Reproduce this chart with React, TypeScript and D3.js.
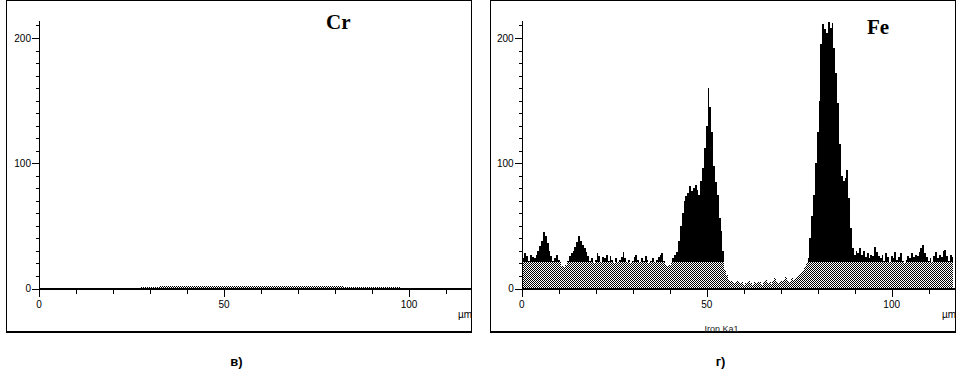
import React from "react";
import * as d3 from "d3";

// Fe line profile, sampled every 0.5 µm from 0 µm
const FE_STEP = 0.5;
const FE_VALUES = [
  20, 24, 28, 26, 22, 27, 25, 24,
  27, 30, 34, 38, 45, 42, 36, 30, 26,
  22, 24, 27, 23, 21, 18, 17, 19, 22, 26,
  28, 30, 33, 37, 42, 38, 35, 32, 29, 26,
  22, 24, 20, 23, 28, 26, 21, 25, 24, 27, 22, 26, 23, 20, 24, 21, 23, 25, 29, 24,
  21, 23, 20, 22, 25, 27, 23, 21, 24, 22, 26, 23, 20, 22, 24, 21, 23, 25, 27, 28,
  22, 19, 18, 19, 21, 24,
  27, 29, 38, 50, 60, 70, 74, 76, 82, 78, 80, 83, 79, 75, 86, 96, 112, 130, 160, 145,
  125, 98, 85, 75, 56, 46, 30, 15, 11, 7, 6, 5,
  4, 5, 6, 4, 5, 3, 5, 4, 6, 4, 3, 5, 4, 6, 5, 3, 5, 7, 4, 5,
  3, 6, 8, 5, 4, 6, 5, 7, 9, 6, 5, 8, 7, 8, 9, 11,
  12, 14, 17, 20, 24, 40, 58, 75, 100, 125, 150, 195, 211, 207, 204, 213, 208, 212, 192, 172,
  148, 115, 90, 86, 88, 95, 72, 48, 32, 27,
  30, 28, 32, 27, 30, 25, 28, 24, 27, 26, 33, 29, 26, 24, 27, 22, 28, 25, 21, 26,
  24, 29, 23, 25, 28, 22, 20, 23, 26, 24, 28, 25, 27, 26, 29, 32, 35, 28, 25, 22,
  24, 21, 26, 29, 24, 27, 25, 30, 31, 26, 22, 27, 25,
];

// Cr line profile, sampled every 5 µm (essentially zero)
const CR_STEP = 5;
const CR_VALUES = [0, 0, 0, 0, 0, 0.4, 1.2, 1.6, 1.6, 1.8, 1.6, 1.6, 1.8, 1.6, 1.6, 1.7, 1.6, 1.2, 0.8, 0.9, 0, 0, 0, 0];

const X_LABELS = [0, 50, 100];
const Y_LABELS = [0, 100, 200];
const DITHER_LEVEL = 21.5;

const y = d3.scaleLinear().domain([0, 200]).range([288.5, 38]);

type PanelProps = {
  id: string;
  frameX: number;
  axisX: number;
  xMax: number;
  values: number[];
  step: number;
  element: string;
  elX: number;
  elY: number;
  caption: string;
  signal?: string;
};

const Panel = ({ id, frameX, axisX, xMax, values, step, element, elX, elY, caption, signal }: PanelProps) => {
  const frameW = 465;
  const x = d3.scaleLinear().domain([0, xMax]).range([axisX, axisX + xMax * 3.7]);
  const area = d3
    .area<number>()
    .x((_, i) => x(i * step))
    .y0(y(0))
    .y1((d) => y(d))
    .curve(d3.curveStep);
  const path = area(values) || "";
  const cut = Math.round(y(DITHER_LEVEL));
  const right = frameX + frameW;
  const minorX = x.ticks(12);
  const minorY = d3.scaleLinear().domain([0, 215]).ticks(22);
  const font = "Liberation Sans, Arial";

  return (
    <g>
      <defs>
        <clipPath id={`${id}-top`}>
          <rect x={axisX} y={0} width={right - axisX} height={cut} />
        </clipPath>
        <clipPath id={`${id}-bot`}>
          <rect x={axisX} y={cut} width={right - axisX} height={289 - cut} />
        </clipPath>
      </defs>
      <rect x={frameX + 0.5} y={0.5} width={frameW} height={331} fill="white" stroke="#000" strokeWidth={1} />
      <line x1={frameX} x2={right + 1} y1={332} y2={332} stroke="#000" strokeWidth={2} />

      <path d={path} fill="#000" clipPath={`url(#${id}-top)`} shapeRendering="crispEdges" />
      <path d={path} fill="url(#dither)" clipPath={`url(#${id}-bot)`} shapeRendering="crispEdges" />

      {/* y axis */}
      <line x1={Math.round(axisX) + 0.5} x2={Math.round(axisX) + 0.5} y1={21} y2={y(0) + 1} stroke="#000" shapeRendering="crispEdges" />
      {minorY.map((t) => (
        <line key={`ym${t}`} x1={axisX - 3} x2={axisX} y1={Math.round(y(t)) + 0.5} y2={Math.round(y(t)) + 0.5}
          stroke="#000" shapeRendering="crispEdges" />
      ))}
      {Y_LABELS.map((t) => (
        <g key={`yl${t}`}>
          <line x1={axisX - 7} x2={axisX} y1={Math.round(y(t)) + 0.5} y2={Math.round(y(t)) + 0.5} stroke="#000"
            shapeRendering="crispEdges" />
          <text x={axisX - 8} y={y(t) + 3.5} textAnchor="end" fontSize={10} fontFamily={font} fill="#000">{t}</text>
        </g>
      ))}

      {/* x axis */}
      <line x1={axisX} x2={right} y1={y(0) + 0.5} y2={y(0) + 0.5} stroke="#000" strokeWidth={2} shapeRendering="crispEdges" />
      {minorX.map((t) => (
        <line key={`xm${t}`} x1={Math.round(x(t)) + 0.5} x2={Math.round(x(t)) + 0.5} y1={y(0)} y2={y(0) + 5}
          stroke="#000" shapeRendering="crispEdges" />
      ))}
      {X_LABELS.map((t) => (
        <g key={`xl${t}`}>
          <line x1={Math.round(x(t)) + 0.5} x2={Math.round(x(t)) + 0.5} y1={y(0)} y2={y(0) + 8} stroke="#000"
            shapeRendering="crispEdges" />
          <text x={x(t)} y={308} textAnchor="middle" fontSize={10} fontFamily={font} fill="#000">{t}</text>
        </g>
      ))}
      <text x={right - 13} y={318} fontSize={10} fontFamily={font} fill="#000">µm</text>

      <text x={elX} y={elY} fontSize={21} fontWeight="bold" fontFamily="Liberation Serif, Times New Roman" fill="#000">{element}</text>
      {signal && (
        <text x={x(54)} y={332} textAnchor="middle" fontSize={9} fontFamily={font} fill="#222">{signal}</text>
      )}
      <text x={frameX + frameW / 2 - 2} y={366} textAnchor="middle" fontSize={13} fontWeight="bold"
        fontFamily={font} fill="#000">{caption}</text>
    </g>
  );
};

export default function App() {
  return (
    <svg width={956} height={374} style={{ position: "absolute", left: 0, top: 0, background: "#fff" }}>
      <defs>
        <pattern id="dither" x={0} y={0} width={4} height={4} patternUnits="userSpaceOnUse">
          <rect width={4} height={4} fill="#fff" shapeRendering="crispEdges" />
          <path d="M0 0h1v1H0zM2 0h1v1H2zM1 1h1v1H1zM3 1h1v1H3zM0 2h1v1H0zM2 2h1v1H2zM1 3h1v1H1zM3 3h1v1H3z"
            fill="#000" shapeRendering="crispEdges" />
        </pattern>
      </defs>
      <rect width={956} height={374} fill="#fff" />
      <Panel id="cr" frameX={6} axisX={39} xMax={117.5} values={CR_VALUES} step={CR_STEP}
        element="Cr" elX={326} elY={29} caption="в)" />
      <Panel id="fe" frameX={490} axisX={521.7} xMax={116.8} values={FE_VALUES} step={FE_STEP}
        element="Fe" elX={867} elY={34} caption="г)" signal="Iron Ka1" />
    </svg>
  );
}
